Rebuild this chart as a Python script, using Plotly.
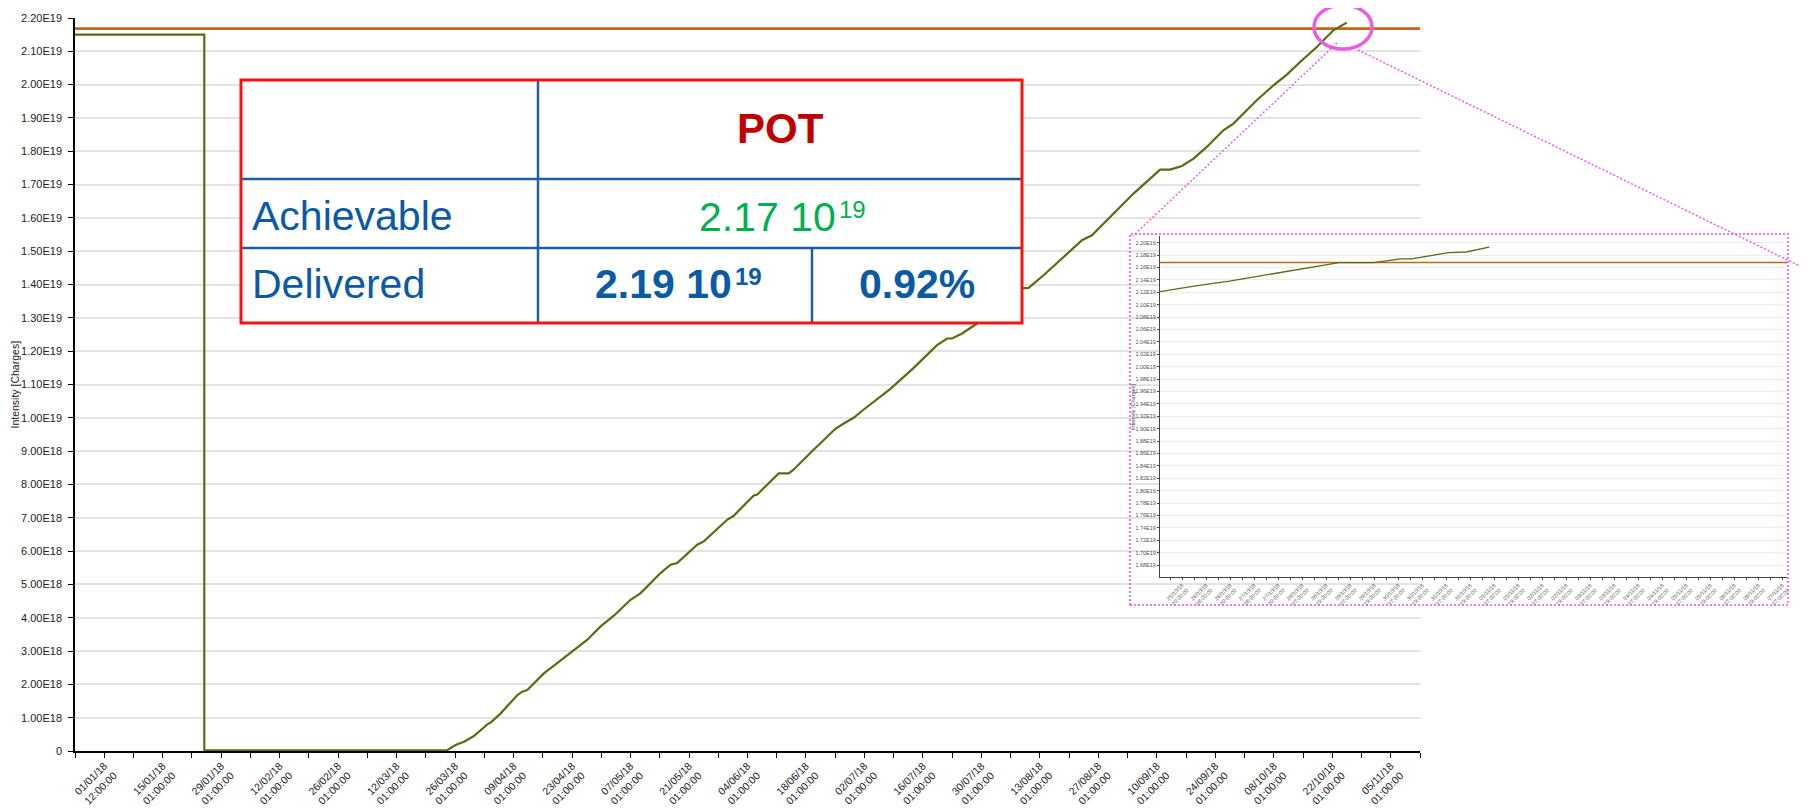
import pandas as pd
import plotly.graph_objects as go

# ---------------- data ----------------
# cumulative delivered intensity (units of 1E18 charges)
main_dates = [
    "2017-12-25 01:00", "2018-01-25 00:00", "2018-01-25 00:00",
    "2018-03-24 05:00", "2018-03-26 04:00", "2018-03-28 04:00", "2018-03-30 13:00",
    "2018-04-02 18:00", "2018-04-03 13:00", "2018-04-05 23:00", "2018-04-09 23:00",
    "2018-04-11 03:00", "2018-04-12 08:00", "2018-04-16 07:00", "2018-04-18 17:00",
    "2018-04-21 02:00", "2018-04-23 12:00", "2018-04-26 17:00", "2018-04-29 21:00",
    "2018-05-03 01:00", "2018-05-07 01:00", "2018-05-09 11:00", "2018-05-14 05:00",
    "2018-05-16 15:00", "2018-05-18 05:00", "2018-05-23 00:00", "2018-05-24 14:00",
    "2018-05-30 04:00", "2018-05-31 18:00", "2018-06-05 13:00", "2018-06-06 09:00",
    "2018-06-11 12:00", "2018-06-13 22:00", "2018-06-15 03:00", "2018-06-19 03:00",
    "2018-06-25 02:00", "2018-06-27 02:00", "2018-06-29 11:00", "2018-07-01 21:00",
    "2018-07-05 02:00", "2018-07-08 06:00", "2018-07-13 20:00", "2018-07-17 20:00",
    "2018-07-19 10:00", "2018-07-21 20:00", "2018-07-23 00:00", "2018-07-25 10:00",
    "2018-07-29 00:00", "2018-08-07 14:00", "2018-08-10 08:00", "2018-08-13 22:00",
    "2018-08-17 22:00", "2018-08-23 03:00", "2018-08-25 12:00", "2018-08-29 21:00",
    "2018-09-04 11:00", "2018-09-10 20:00", "2018-09-13 06:00", "2018-09-16 01:00",
    "2018-09-18 20:00", "2018-09-22 00:00", "2018-09-25 23:00", "2018-09-28 09:00",
    "2018-10-03 23:00", "2018-10-07 23:00", "2018-10-11 04:00", "2018-10-14 08:00",
    "2018-10-18 08:00", "2018-10-22 07:00", "2018-10-25 12:00",
]
main_values_e18 = [
    21.5, 21.5, 0.02,
    0.03, 0.18, 0.28, 0.45,
    0.80, 0.85, 1.13, 1.68,
    1.78, 1.83, 2.33, 2.56,
    2.79, 3.02, 3.34, 3.74,
    4.06, 4.54, 4.74, 5.34,
    5.59, 5.64, 6.19, 6.29,
    6.94, 7.06, 7.67, 7.70,
    8.33, 8.33, 8.45, 8.95,
    9.67, 9.83, 10.00, 10.25,
    10.55, 10.87, 11.50, 12.00,
    12.18, 12.38, 12.38, 12.53,
    12.83, 13.88, 13.90, 14.28,
    14.73, 15.33, 15.48, 16.03,
    16.73, 17.45, 17.45, 17.56,
    17.78, 18.13, 18.63, 18.83,
    19.53, 19.98, 20.30, 20.68,
    21.13, 21.63, 21.86,
]
achievable = 2.168e19

main_range = ["2017-12-25 01:00", "2018-11-12 01:00"]
main_tick_labels = [
    "01/01/18<br>12:00:00", "15/01/18<br>01:00:00", "29/01/18<br>01:00:00",
    "12/02/18<br>01:00:00", "26/02/18<br>01:00:00", "12/03/18<br>01:00:00",
    "26/03/18<br>01:00:00", "09/04/18<br>01:00:00", "23/04/18<br>01:00:00",
    "07/05/18<br>01:00:00", "21/05/18<br>01:00:00", "04/06/18<br>01:00:00",
    "18/06/18<br>01:00:00", "02/07/18<br>01:00:00", "16/07/18<br>01:00:00",
    "30/07/18<br>01:00:00", "13/08/18<br>01:00:00", "27/08/18<br>01:00:00",
    "10/09/18<br>01:00:00", "24/09/18<br>01:00:00", "08/10/18<br>01:00:00",
    "22/10/18<br>01:00:00", "05/11/18<br>01:00:00",
]
y_ticks_e18 = list(range(0, 23))
y_tick_labels = [
    "0", "1.00E18", "2.00E18", "3.00E18", "4.00E18", "5.00E18", "6.00E18",
    "7.00E18", "8.00E18", "9.00E18", "1.00E19", "1.10E19", "1.20E19", "1.30E19",
    "1.40E19", "1.50E19", "1.60E19", "1.70E19", "1.80E19", "1.90E19", "2.00E19",
    "2.10E19", "2.20E19",
]

# inset (zoom of the last days)
inset_dates = [
    "2018-10-25 09:00", "2018-10-26 02:00", "2018-10-26 19:40", "2018-10-27 15:20",
    "2018-10-28 13:20", "2018-10-29 02:30", "2018-10-29 20:00", "2018-10-30 09:10",
    "2018-10-30 14:40", "2018-10-31 09:20", "2018-10-31 18:00", "2018-11-01 05:30",
]
inset_values_e19 = [2.121, 2.130, 2.138, 2.149, 2.161, 2.168, 2.168, 2.174,
                    2.174, 2.184, 2.185, 2.193]
inset_range = ["2018-10-25 09:00", "2018-11-07 10:20"]
inset_tick_labels = [
    "25/10/18<br>20:00:00", "26/10/18<br>08:00:00", "26/10/18<br>20:00:00",
    "27/10/18<br>08:00:00", "27/10/18<br>20:00:00", "28/10/18<br>07:00:00",
    "28/10/18<br>19:00:00", "29/10/18<br>07:00:00", "29/10/18<br>19:00:00",
    "30/10/18<br>07:00:00", "30/10/18<br>19:00:00", "31/10/18<br>07:00:00",
    "31/10/18<br>19:00:00", "01/11/18<br>07:00:00", "01/11/18<br>19:00:00",
    "02/11/18<br>07:00:00", "02/11/18<br>19:00:00", "03/11/18<br>07:00:00",
    "03/11/18<br>19:00:00", "04/11/18<br>07:00:00", "04/11/18<br>19:00:00",
    "05/11/18<br>07:00:00", "05/11/18<br>19:00:00", "06/11/18<br>07:00:00",
    "06/11/18<br>19:00:00", "07/11/18<br>07:00:00",
]
inset_y_ticks_e19 = [2.20, 2.18, 2.16, 2.14, 2.12, 2.10, 2.08, 2.06, 2.04, 2.02,
                     2.00, 1.98, 1.96, 1.94, 1.92, 1.90, 1.88, 1.86, 1.84, 1.82,
                     1.80, 1.78, 1.76, 1.74, 1.72, 1.70, 1.68]
inset_y_tick_labels = ["%.2fE19" % v for v in inset_y_ticks_e19]

# table texts
table_header = "POT"
row_labels = ["Achievable", "Delivered"]
achievable_mant = "2.17 10"
delivered_mant = "2.19 10"
exponent = "19"
delivered_pct = "0.92%"

# ---------------- layout helpers ----------------
# the page body has an 8px margin: work in page pixels and convert
OFF = 8
W, H = 1800, 800
L, R, T, B = 75 - OFF, 2, 18 - OFF, 808 - 751
PW, PH = W - L - R, H - T - B


def fx(px):
    return (px - OFF - L) / PW


def fy(py):
    return 1 - (py - OFF - T) / PH


FONT = "Arial, 'Liberation Sans', sans-serif"
GREEN = "#5a6b10"
ORANGE = "#c5651b"
MAGENTA = "#f04cf0"
BLUE_TXT = "#0b5aa6"
BLUE_LINE = "#1c5ea8"
GREEN_TXT = "#00b04f"

# weekly ticks on the main axis, labelled every two weeks
main_ticks = pd.date_range(main_range[0], main_range[1], freq="7D")
main_ticktext = []
k = 0
for i, d in enumerate(main_ticks):
    if i % 2 == 1 and k < len(main_tick_labels):
        main_ticktext.append(main_tick_labels[k])
        k += 1
    else:
        main_ticktext.append("")

inset_ticks = pd.date_range("2018-10-25 14:00", periods=2 * len(inset_tick_labels), freq="6h")
inset_ticktext = []
k = 0
for i, d in enumerate(inset_ticks):
    if i % 2 == 1:
        inset_ticktext.append(inset_tick_labels[k])
        k += 1
    else:
        inset_ticktext.append("")

fig = go.Figure()

# main chart
fig.add_trace(go.Scatter(x=list(main_range), y=[achievable, achievable], mode="lines",
                         line=dict(color=ORANGE, width=2.6), xaxis="x", yaxis="y",
                         hoverinfo="skip"))
fig.add_trace(go.Scatter(x=main_dates, y=[v * 1e18 for v in main_values_e18], mode="lines",
                         line=dict(color=GREEN, width=2.2), xaxis="x", yaxis="y",
                         hoverinfo="skip"))

# inset chart
fig.add_trace(go.Scatter(x=list(inset_range), y=[achievable, achievable], mode="lines",
                         line=dict(color=ORANGE, width=1.5), xaxis="x3", yaxis="y3",
                         hoverinfo="skip"))
fig.add_trace(go.Scatter(x=inset_dates, y=[v * 1e19 for v in inset_values_e19], mode="lines",
                         line=dict(color=GREEN, width=1.3), xaxis="x3", yaxis="y3",
                         hoverinfo="skip"))

shapes = []
# table
shapes.append(dict(type="rect", xref="paper", yref="paper", x0=fx(241), x1=fx(1022),
                   y0=fy(323), y1=fy(80), fillcolor="white", line=dict(width=0), layer="above"))
for py in (179, 248):
    shapes.append(dict(type="line", xref="paper", yref="paper", x0=fx(241), x1=fx(1022),
                       y0=fy(py), y1=fy(py), line=dict(color=BLUE_LINE, width=2.5), layer="above"))
shapes.append(dict(type="line", xref="paper", yref="paper", x0=fx(538), x1=fx(538),
                   y0=fy(80), y1=fy(323), line=dict(color=BLUE_LINE, width=2.5), layer="above"))
shapes.append(dict(type="line", xref="paper", yref="paper", x0=fx(812), x1=fx(812),
                   y0=fy(248), y1=fy(323), line=dict(color=BLUE_LINE, width=2.5), layer="above"))
shapes.append(dict(type="rect", xref="paper", yref="paper", x0=fx(241), x1=fx(1022),
                   y0=fy(323), y1=fy(80), line=dict(color="#ff1010", width=3), layer="above"))
# inset frame and zoom markers
shapes.append(dict(type="rect", xref="paper", yref="paper", x0=fx(1130), x1=fx(1788),
                   y0=fy(605), y1=fy(234), line=dict(color=MAGENTA, width=1.5, dash="2px,2px"),
                   layer="above"))
shapes.append(dict(type="line", xref="paper", yref="paper", x0=fx(1337), y0=fy(43),
                   x1=fx(1133), y1=fy(236), line=dict(color=MAGENTA, width=1.4, dash="2px,2px"),
                   layer="above"))
shapes.append(dict(type="line", xref="paper", yref="paper", x0=fx(1358), y0=fy(50),
                   x1=fx(1808), y1=fy(270), line=dict(color=MAGENTA, width=1.4, dash="2px,2px"),
                   layer="above"))
shapes.append(dict(type="circle", xref="paper", yref="paper", x0=fx(1314), x1=fx(1372),
                   y0=fy(49), y1=fy(5), line=dict(color="#e95ce3", width=3.5), layer="above"))


def ann(x, y, text, size, color, xanchor="center"):
    return dict(xref="paper", yref="paper", x=fx(x), y=fy(y), text=text, showarrow=False,
                font=dict(size=size, color=color, family=FONT), xanchor=xanchor,
                yanchor="middle", borderpad=0)


annotations = [
    dict(xref="paper", yref="paper", x=fx(14), y=fy(384.5), text="Intensity [Charges]",
         textangle=-90, showarrow=False, font=dict(size=10.5, color="#222", family=FONT),
         xanchor="center", yanchor="middle"),
    dict(xref="paper", yref="paper", x=fx(1133), y=fy(407), text="Intensity [Charges]",
         textangle=-90, showarrow=False, font=dict(size=5.5, color="#444", family=FONT),
         xanchor="center", yanchor="middle"),
    ann(780, 128.5, "<b>%s</b>" % table_header, 42, "#c00000"),
    ann(251, 216, row_labels[0], 41, BLUE_TXT, "left"),
    ann(251, 284, row_labels[1], 41, BLUE_TXT, "left"),
    ann(837, 217, achievable_mant, 41, GREEN_TXT, "right"),
    ann(838, 209, exponent, 24, GREEN_TXT, "left"),
    ann(733, 284, "<b>%s</b>" % delivered_mant, 41, BLUE_TXT, "right"),
    ann(734, 276, "<b>%s</b>" % exponent, 24, BLUE_TXT, "left"),
    ann(917, 284, "<b>%s</b>" % delivered_pct, 41, BLUE_TXT),
]

fig.update_layout(
    width=W, height=H,
    margin=dict(l=L, r=R, t=T, b=B, pad=0),
    paper_bgcolor="white", plot_bgcolor="white",
    showlegend=False, hovermode=False,
    font=dict(family=FONT, color="#222"),
    xaxis=dict(domain=[0, fx(1420)], anchor="y", type="date", range=main_range,
               tickmode="array", tickvals=list(main_ticks), ticktext=main_ticktext,
               tickangle=-45, ticks="outside", ticklen=5, tickwidth=1, tickcolor="black",
               showline=True, linecolor="black", linewidth=1.5, showgrid=False, zeroline=False,
               tickfont=dict(size=10.5, color="#222", family=FONT), automargin=False,
               ticklabelstandoff=-2),
    yaxis=dict(domain=[0, 1], anchor="x", range=[0, 2.2e19], tickmode="array",
               tickvals=[v * 1e18 for v in y_ticks_e18], ticktext=y_tick_labels,
               ticks="outside", ticklen=5, tickwidth=1, tickcolor="black",
               showline=True, linecolor="black", linewidth=1.5,
               showgrid=True, gridcolor="#e3e3e3", gridwidth=1.5, zeroline=False,
               tickfont=dict(size=11, color="#222", family=FONT), automargin=False,
               ticklabelstandoff=4),
    xaxis2=dict(domain=[fx(1130), fx(1788)], anchor="y2", visible=False, range=[0, 1]),
    yaxis2=dict(domain=[fy(605), fy(234)], anchor="x2", visible=False, range=[0, 1]),
    xaxis3=dict(domain=[fx(1160), fx(1787)], anchor="y3", type="date", range=inset_range,
                tickmode="array", tickvals=list(inset_ticks), ticktext=inset_ticktext,
                tickangle=-45, ticks="outside", ticklen=2, tickwidth=0.8, tickcolor="#444",
                showline=True, linecolor="#444", linewidth=1, showgrid=False, zeroline=False,
                tickfont=dict(size=5.5, color="#555", family=FONT), automargin=False),
    yaxis3=dict(domain=[fy(577), fy(235.5)], anchor="x3", range=[1.6608e19, 2.2116e19],
                tickmode="array", tickvals=[v * 1e19 for v in inset_y_ticks_e19],
                ticktext=inset_y_tick_labels, ticks="outside", ticklen=2, tickwidth=0.8,
                tickcolor="#444", showline=True, linecolor="#444", linewidth=1,
                showgrid=True, gridcolor="#ececec", gridwidth=1, zeroline=False,
                tickfont=dict(size=5.5, color="#555", family=FONT), automargin=False),
    shapes=shapes,
    annotations=annotations,
)

fig.write_html("out.html")
